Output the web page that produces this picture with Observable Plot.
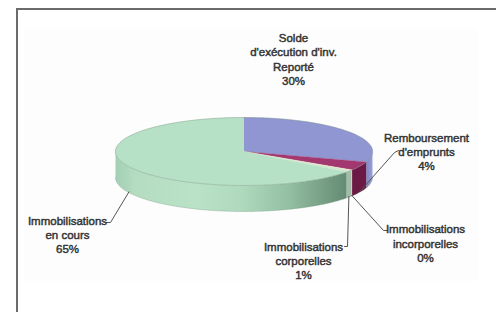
<!DOCTYPE html>
<html><head><meta charset="utf-8">
<script src="https://cdn.jsdelivr.net/npm/d3@7"></script>
<script src="https://cdn.jsdelivr.net/npm/@observablehq/plot@0.6"></script>
<style>
html,body{margin:0;padding:0;background:#fff;overflow:hidden;}
#wrap{position:relative;width:496px;height:312px;overflow:hidden;}
#frame{position:absolute;left:16px;top:8px;width:520px;height:340px;border-top:2px solid #6b6b6b;border-left:2px solid #6b6b6b;}
#area{position:absolute;left:24px;top:29px;width:454px;height:252px;background:#fdfdfd;}
#chart{position:absolute;left:0;top:0;}
</style></head><body>
<div id="wrap"><div id="frame"></div><div id="area"></div><div id="chart"></div></div>
<script>
// ---- data ----
const categories = ["Solde d'exécution d'inv. Reporté", "Remboursement d'emprunts", "Immobilisations incorporelles", "Immobilisations corporelles", "Immobilisations en cours"];
const labelLines = ["Solde\nd'exécution d'inv.\nReporté", "Remboursement\nd'emprunts", "Immobilisations\nincorporelles", "Immobilisations\ncorporelles", "Immobilisations\nen cours"];
const values = [30.0, 4.1, 0.2, 1.0, 64.7];
const percentLabels = ["30%", "4%", "0%", "1%", "65%"];

// ---- styles / layout ----
const topColors = ["#8f96d1", "#a2386f", "#ffffcc", "#d4e6d0", "#b7e1c6"];
const sideColors = ["url(#gBlue)", "#6a1a44", "#cfcf9f", "#a3bca6", "url(#gGreen)"];
const W = 496, H = 312;
const cx = 243.5, cy = 151, rx = 128.5, ry = 34, depthPx = 26;
const D = depthPx / ry;
const ux = px => (px - cx) / rx;
const uy = py => (cy - py) / ry;
// label block centres (pixels) and leader elbows (pixels)
const labelPos = [[293, 58.5], [426, 151], [425, 242.5], [303, 260], [67, 234]];
const leaderEnds = [null, [[394, 152], [398, 150]], [[383, 230], [387, 230]], [[347, 246], [344, 246]], [[110, 222], [106, 222]]];

const arcs = d3.pie().sort(null).startAngle(0).endAngle(2 * Math.PI)(values);
const step = Math.PI / 360;
function arcPts(a0, a1) {
  const n = Math.max(2, Math.ceil((a1 - a0) / step) + 1);
  return d3.range(n).map(i => a0 + (a1 - a0) * i / (n - 1));
}
const topPts = [], sidePts = [];
arcs.forEach((a, i) => {
  const k = categories[i];
  topPts.push({k, x: 0, y: 0, c: topColors[i]});
  for (const t of arcPts(a.startAngle, a.endAngle)) topPts.push({k, x: Math.sin(t), y: Math.cos(t), c: topColors[i]});
  const s0 = Math.max(a.startAngle, Math.PI / 2), s1 = Math.min(a.endAngle, 3 * Math.PI / 2);
  if (s1 > s0) {
    const ts = arcPts(s0, s1);
    for (const t of ts) sidePts.push({k, x: Math.sin(t), y: Math.cos(t), c: sideColors[i]});
    for (const t of ts.slice().reverse()) sidePts.push({k, x: Math.sin(t), y: Math.cos(t) - D, c: sideColors[i]});
  }
});
// outlines: front bottom edge and top rim
const edgePts = arcPts(Math.PI / 2, 3 * Math.PI / 2).map(t => ({x: Math.sin(t), y: Math.cos(t) - D}));
const rimPts = arcPts(0, 2 * Math.PI).map(t => ({x: Math.sin(t), y: Math.cos(t)}));

const leaders = [];
arcs.forEach((a, i) => {
  if (!leaderEnds[i]) return;
  const m = (a.startAngle + a.endAngle) / 2;
  leaders.push({k: categories[i], x: Math.sin(m), y: Math.cos(m) - D * 0.97});
  for (const p of leaderEnds[i]) leaders.push({k: categories[i], x: ux(p[0]), y: uy(p[1])});
});
const textData = categories.map((k, i) => ({k, x: ux(labelPos[i][0]), y: uy(labelPos[i][1]), t: labelLines[i] + "\n" + percentLabels[i]}));

function defs() {
  const g = d3.create("svg:defs");
  const gg = g.append("linearGradient").attr("id", "gGreen").attr("x1", 0).attr("x2", 1).attr("y1", 0).attr("y2", 0);
  [[0, "#a3cfb3"], [0.08, "#b3dcc1"], [0.35, "#b9e2c7"], [0.55, "#afd9bd"], [0.75, "#93bfa2"], [0.92, "#739b82"], [1, "#648b73"]]
    .forEach(([o, c]) => gg.append("stop").attr("offset", o).attr("stop-color", c));
  const gb = g.append("linearGradient").attr("id", "gBlue").attr("x1", 0).attr("x2", 1).attr("y1", 0).attr("y2", 0);
  [[0, "#7e86c2"], [1, "#9aa1d8"]].forEach(([o, c]) => gb.append("stop").attr("offset", o).attr("stop-color", c));
  return g.node();
}

const chart = Plot.plot({
  width: W, height: H,
  margin: 0,
  style: {background: "transparent", overflow: "visible"},
  x: {domain: [-1, 1], range: [cx - rx, cx + rx], axis: null},
  y: {domain: [-1, 1], range: [cy + ry, cy - ry], axis: null},
  color: {type: "identity"},
  marks: [
    defs,
    Plot.line(sidePts, {x: "x", y: "y", z: "k", fill: "c", stroke: null, curve: "linear"}),
    Plot.line(edgePts, {x: "x", y: "y", stroke: "#7f9a88", strokeWidth: 0.6, strokeOpacity: 0.6}),
    Plot.line(topPts, {x: "x", y: "y", z: "k", fill: "c", stroke: "c", strokeWidth: 0.3, curve: "linear"}),
    Plot.line(rimPts, {x: "x", y: "y", stroke: "#6f8a78", strokeWidth: 0.7, strokeOpacity: 0.55}),
    Plot.line(leaders, {x: "x", y: "y", z: "k", stroke: "#555", strokeWidth: 1, curve: "linear"}),
    Plot.text(textData, {x: "x", y: "y", text: "t", fill: "#333", fontSize: 11.5, lineHeight: 1.24, textAnchor: "middle", lineAnchor: "middle", fontFamily: "'Liberation Sans', Arial, sans-serif", stroke: "#333", strokeWidth: 0.45})
  ]
});
document.getElementById("chart").appendChild(chart);
</script>
</body></html>
